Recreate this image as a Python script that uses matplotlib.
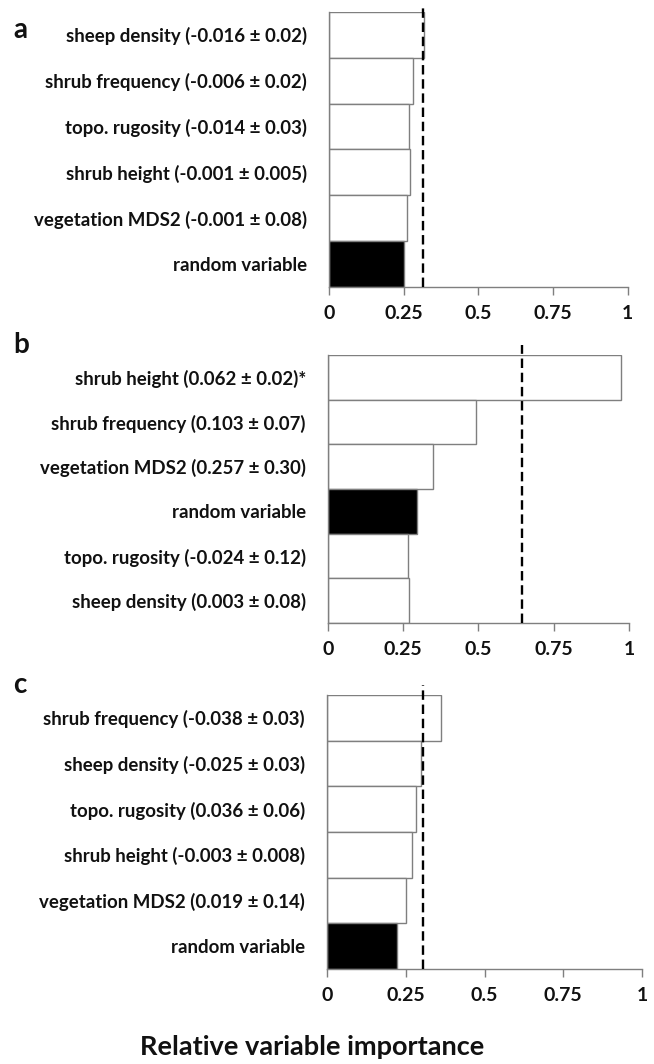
import numpy as np
import matplotlib
matplotlib.use("Agg")
import matplotlib.pyplot as plt

plt.rcParams['font.family'] = ['Lato', 'DejaVu Sans']

# panel a
labels_a = ["sheep density (-0.016 ± 0.02)", "shrub frequency (-0.006 ± 0.02)",
            "topo. rugosity (-0.014 ± 0.03)", "shrub height (-0.001 ± 0.005)",
            "vegetation MDS2 (-0.001 ± 0.08)", "random variable"]
values_a = [0.319, 0.280, 0.269, 0.270, 0.260, 0.251]
thresh_a = 0.315

# panel b
labels_b = ["shrub height (0.062 ± 0.02)*", "shrub frequency (0.103 ± 0.07)",
            "vegetation MDS2 (0.257 ± 0.30)", "random variable",
            "topo. rugosity (-0.024 ± 0.12)", "sheep density (0.003 ± 0.08)"]
values_b = [0.972, 0.491, 0.349, 0.297, 0.267, 0.268]
thresh_b = 0.643

# panel c
labels_c = ["shrub frequency (-0.038 ± 0.03)", "sheep density (-0.025 ± 0.03)",
            "topo. rugosity (0.036 ± 0.06)", "shrub height (-0.003 ± 0.008)",
            "vegetation MDS2 (0.019 ± 0.14)", "random variable"]
values_c = [0.361, 0.298, 0.282, 0.270, 0.252, 0.221]
thresh_c = 0.305

xticks = [0, 0.25, 0.5, 0.75, 1]
xticklabels = ["0", "0.25", "0.5", "0.75", "1"]

gray = "#7f7f7f"
ink = "#111111"

fig = plt.figure(figsize=(6.54, 10.64), dpi=100)

panels = [
    ("a", labels_a, values_a, thresh_a, [0.503, 0.7303, 0.457, 0.2585], 0.09, 0.972),
    ("b", labels_b, values_b, thresh_b, [0.5015, 0.4145, 0.4602, 0.2519], 0.22, 0.676),
    ("c", labels_c, values_c, thresh_c, [0.500, 0.0893, 0.4817, 0.2575], 0.22, 0.356),
]

for letter, labels, values, thresh, rect, ext, ly in panels:
    ax = fig.add_axes(rect)
    y = np.arange(len(labels))
    colors = ["black" if l == "random variable" else "white" for l in labels]
    ax.barh(y, values, height=1.0, color=colors, edgecolor=gray, linewidth=1.0)
    ax.set_ylim(len(labels) - 0.5, -0.5)
    ax.set_xlim(0, 1)
    # dashed threshold line, runs a bit above the top bar
    ax.plot([thresh, thresh], [len(labels) - 0.5, -0.5 - ext], color="black",
            lw=1.7, linestyle=(0, (4, 2)), clip_on=False, zorder=5)
    ax.set_yticks(y)
    ax.set_yticklabels(labels, fontsize=13.4, fontweight="bold", color=ink)
    ax.tick_params(axis="y", length=0, pad=16)
    ax.set_xticks(xticks)
    ax.set_xticklabels(xticklabels, fontsize=14, fontweight="bold", color=ink)
    ax.tick_params(axis="x", direction="out", length=6, width=1, color=gray, pad=7)
    for s in ["top", "right"]:
        ax.spines[s].set_visible(False)
    for s in ["left", "bottom"]:
        ax.spines[s].set_color(gray)
        ax.spines[s].set_linewidth(1.0)
    fig.text(0.02, ly, letter, fontsize=20, fontweight="bold", ha="left", va="center",
             color=ink)

fig.text(0.478, 0.0085, "Relative variable importance", fontsize=19.5, fontweight="bold",
         ha="center", va="baseline", color=ink)

fig.savefig("out.png", dpi=100)
